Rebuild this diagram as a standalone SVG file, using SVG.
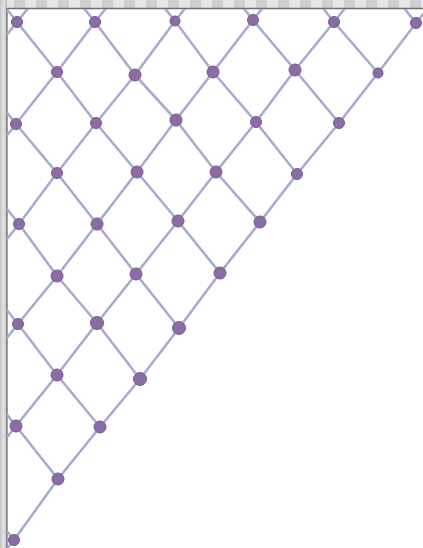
<svg xmlns="http://www.w3.org/2000/svg" width="423" height="548" viewBox="0 0 423 548">
<defs>
<style>
.ln{fill:none;stroke:#a7abcf;stroke-width:2.6;stroke-linejoin:round;stroke-linecap:round}
.dot{fill:#8b6ca4;stroke:#77598f;stroke-width:1}
</style>
<clipPath id="inner"><rect x="7" y="9" width="416" height="539"/></clipPath>
<linearGradient id="lg" x1="0" y1="0" x2="1" y2="0">
<stop offset="0" stop-color="#c4c4c4"/><stop offset="0.5" stop-color="#e4e4e4"/><stop offset="1" stop-color="#bcbcbc"/>
</linearGradient>
<pattern id="stripes" x="0" y="0" width="22" height="9" patternUnits="userSpaceOnUse">
<rect x="0" y="0" width="22" height="9" fill="#cfcfcf"/>
<rect x="3" y="0" width="11" height="9" fill="#e6e6e6"/>
</pattern>
</defs>
<rect x="0" y="0" width="423" height="548" fill="#ffffff"/>
<rect x="0" y="0" width="423" height="8" fill="url(#stripes)"/>
<rect x="0" y="0" width="7" height="548" fill="url(#lg)"/>
<line x1="6.5" y1="8.5" x2="423" y2="8.5" stroke="#6e6e6e" stroke-width="1.5"/>
<line x1="7" y1="8" x2="7" y2="548" stroke="#7a7a7a" stroke-width="1.5"/>
<g id="connectors" clip-path="url(#inner)">
<polyline class="ln" points="-23,-28 17,22 57,72 96,123 137,172 178,221 220,273"/>
<polyline class="ln" points="55,-28 95,22 135,75 176,120 216,172 260,222"/>
<polyline class="ln" points="135,-29 175,21 213,72 256,122 297,174"/>
<polyline class="ln" points="213,-30 253,20 295,70 339,123"/>
<polyline class="ln" points="294,-28 334,22 378,73"/>
<polyline class="ln" points="376,-27 416,23"/>
<polyline class="ln" points="-24,74 16,124 57,173 97,224 136,274 179,328"/>
<polyline class="ln" points="-21,174 19,224 57,276 97,323 140,379"/>
<polyline class="ln" points="-22,274 18,324 57,375 100,427"/>
<polyline class="ln" points="-24,376 16,426 58,479"/>
<polyline class="ln" points="-26,490 14,540"/>
<polyline class="ln" points="57,-28 17,22 -23,72"/>
<polyline class="ln" points="135,-28 95,22 57,72 16,124 -24,174"/>
<polyline class="ln" points="215,-29 175,21 135,75 96,123 57,173 19,224 -21,274"/>
<polyline class="ln" points="293,-30 253,20 213,72 176,120 137,172 97,224 57,276 18,324 -22,374"/>
<polyline class="ln" points="374,-28 334,22 295,70 256,122 216,172 178,221 136,274 97,323 57,375 16,426 -24,476"/>
<polyline class="ln" points="456,-27 416,23 378,73 339,123 297,174 260,222 220,273 179,328 140,379 100,427 58,479 14,540 -26,590"/>
</g>
<g id="n0_0"><circle class="dot" cx="17" cy="22" r="5.5"/></g>
<g id="n2_0"><circle class="dot" cx="95" cy="22" r="5.5"/></g>
<g id="n4_0"><circle class="dot" cx="175" cy="21" r="5"/></g>
<g id="n6_0"><circle class="dot" cx="253" cy="20" r="5.5"/></g>
<g id="n8_0"><circle class="dot" cx="334" cy="22" r="5.5"/></g>
<g id="n10_0"><circle class="dot" cx="416" cy="23" r="5.5"/></g>
<g id="n1_1"><circle class="dot" cx="57" cy="72" r="5.5"/></g>
<g id="n3_1"><circle class="dot" cx="135" cy="75" r="6"/></g>
<g id="n5_1"><circle class="dot" cx="213" cy="72" r="6"/></g>
<g id="n7_1"><circle class="dot" cx="295" cy="70" r="6"/></g>
<g id="n9_1"><circle class="dot" cx="378" cy="73" r="5"/></g>
<g id="n0_2"><circle class="dot" cx="16" cy="124" r="5.5"/></g>
<g id="n2_2"><circle class="dot" cx="96" cy="123" r="5.5"/></g>
<g id="n4_2"><circle class="dot" cx="176" cy="120" r="6"/></g>
<g id="n6_2"><circle class="dot" cx="256" cy="122" r="5.5"/></g>
<g id="n8_2"><circle class="dot" cx="339" cy="123" r="5.5"/></g>
<g id="n1_3"><circle class="dot" cx="57" cy="173" r="5.5"/></g>
<g id="n3_3"><circle class="dot" cx="137" cy="172" r="6"/></g>
<g id="n5_3"><circle class="dot" cx="216" cy="172" r="6"/></g>
<g id="n7_3"><circle class="dot" cx="297" cy="174" r="5.5"/></g>
<g id="n0_4"><circle class="dot" cx="19" cy="224" r="5.5"/></g>
<g id="n2_4"><circle class="dot" cx="97" cy="224" r="6"/></g>
<g id="n4_4"><circle class="dot" cx="178" cy="221" r="6"/></g>
<g id="n6_4"><circle class="dot" cx="260" cy="222" r="6"/></g>
<g id="n1_5"><circle class="dot" cx="57" cy="276" r="6"/></g>
<g id="n3_5"><circle class="dot" cx="136" cy="274" r="6"/></g>
<g id="n5_5"><circle class="dot" cx="220" cy="273" r="6"/></g>
<g id="n0_6"><circle class="dot" cx="18" cy="324" r="5.5"/></g>
<g id="n2_6"><circle class="dot" cx="97" cy="323" r="6.5"/></g>
<g id="n4_6"><circle class="dot" cx="179" cy="328" r="6.5"/></g>
<g id="n1_7"><circle class="dot" cx="57" cy="375" r="6"/></g>
<g id="n3_7"><circle class="dot" cx="140" cy="379" r="6.5"/></g>
<g id="n0_8"><circle class="dot" cx="16" cy="426" r="6"/></g>
<g id="n2_8"><circle class="dot" cx="100" cy="427" r="6"/></g>
<g id="n1_9"><circle class="dot" cx="58" cy="479" r="6"/></g>
<g id="n0_10"><circle class="dot" cx="14" cy="540" r="5.5"/></g>
</svg>
